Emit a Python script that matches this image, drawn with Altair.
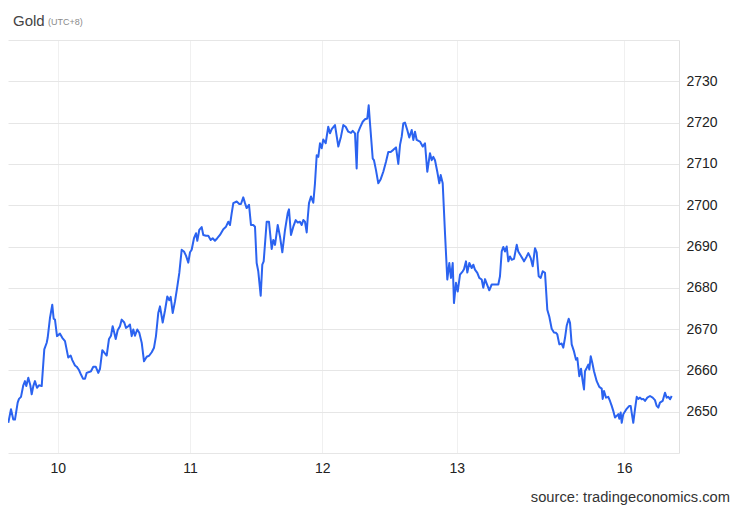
import altair as alt
import pandas as pd

# trading-hour index (hours of trading since Dec 10 00:00 UTC+8, weekend gap removed)
hours = [-8.59, -8.12, -7.72, -7.43, -6.96, -6.73, -6.38, -5.98, -5.69, -5.46, -5.11, -4.76, -4.52, -4.24, -3.95, -3.60, -3.25, -2.78,
         -2.33, -1.91, -1.74, -1.34, -0.94, -0.70, -0.47, -0.12, 0.40, 0.80, 1.27, 1.84, 2.26, 2.54, 3.01, 3.30, 3.70, 4.05, 4.40,
         4.75, 5.04, 5.44, 5.79, 6.19, 6.61, 7.06, 7.36, 7.76, 8.10, 8.52, 8.92, 9.27, 9.56, 9.84, 10.09, 10.43, 10.83, 11.13, 11.58,
         11.88, 12.28, 12.57, 12.87, 13.15, 13.44, 13.84, 14.19, 14.61, 15.01, 15.48, 15.93, 16.35, 16.75, 17.09, 17.49, 17.79, 18.26,
         18.66, 19.06, 19.41, 19.65, 20.00, 20.40, 20.80, 21.15, 21.56, 21.96, 22.31, 22.71, 23.01, 23.30, 23.70, 24.05, 24.28, 24.62,
         25.04, 25.32, 25.79, 26.19, 26.61, 26.95, 27.35, 27.75, 28.22, 28.80, 29.27, 29.67, 29.96, 30.26, 30.54, 31.13, 31.58,
         31.87, 32.27, 32.57, 32.86, 33.27, 33.61, 34.01, 34.31, 34.60, 34.88, 35.30, 35.58, 35.82, 36.34, 36.74, 37.21, 37.49, 37.79,
         38.26, 38.66, 39.06, 39.53, 40.00, 40.22, 40.57, 40.97, 41.39, 41.74, 42.13, 42.43, 42.71, 43.00, 43.30, 43.48, 43.70, 44.05,
         44.45, 44.74, 45.04, 45.32, 45.61, 45.91, 46.18, 46.60, 47.05, 47.35, 47.65, 48.22, 48.80, 49.26, 49.66, 50.08, 50.53, 51.00,
         51.30, 51.70, 51.99, 52.17, 52.57, 53.04, 53.44, 53.84, 54.08, 54.31, 54.78, 55.00, 55.35, 55.75, 56.17, 56.62, 57.09, 57.49,
         57.91, 58.36, 58.83, 59.23, 59.53, 59.82, 60.10, 60.39, 60.79, 61.14, 61.56, 61.84, 62.13, 62.43, 63.00, 63.47, 63.87, 64.27,
         64.74, 65.04, 65.32, 65.61, 66.01, 66.36, 66.60, 66.95, 67.35, 67.75, 68.10, 68.39, 68.69, 68.91, 69.26, 69.56, 69.96, 70.43,
         70.65, 71.00, 71.23, 71.58, 71.99, 72.27, 72.56, 72.97, 73.31, 73.73, 74.01, 74.31, 74.60, 75.05, 75.47, 76.05, 76.62, 76.91,
         77.21, 77.49, 77.78, 78.08, 78.36, 78.65, 78.95, 79.35, 79.82, 80.09, 80.51, 80.86, 81.09, 81.56, 81.84, 82.25, 82.60, 83.00,
         83.29, 83.64, 83.99, 84.34, 84.74, 85.14, 85.49, 85.90, 86.30, 86.65, 86.88, 87.23, 87.64, 87.92, 88.22, 88.51, 88.86, 89.09,
         89.38, 89.78, 90.13, 90.36, 90.70, 91.00, 91.29, 91.52, 91.69, 91.99, 92.27, 92.44, 92.69, 92.97, 93.26, 93.73, 94.18, 94.60,
         94.77, 95.00, 95.35, 95.74, 96.04, 96.34, 96.61, 96.91, 97.21, 97.49, 97.66, 97.90, 98.08, 98.35, 98.94, 99.40, 99.64, 99.81,
         100.09, 100.39, 100.69, 100.96, 101.26, 101.55, 101.83, 102.13, 102.53, 103.00, 103.46, 103.86, 104.16, 104.44, 104.73,
         105.20, 105.60, 105.90, 106.19, 106.48, 106.77]

prices = [2647.3, 2650.6, 2648.1, 2648.1, 2652.2, 2653.1, 2653.6, 2656.4, 2657.4, 2656.2, 2658.2, 2656.4, 2654.2, 2656.2, 2657.4, 2655.8, 2656.4, 2656.2,
          2665.1, 2666.7, 2667.9, 2672.7, 2675.9, 2672.5, 2672.3, 2668.3, 2668.9, 2667.9, 2667.1, 2663.1, 2663.6, 2662.5, 2661.2, 2660.9, 2660.1, 2659.0, 2658.0,
          2658.0, 2659.4, 2659.6, 2659.8, 2660.9, 2660.9, 2659.4, 2660.4, 2664.9, 2664.3, 2663.6, 2667.6, 2668.4, 2670.7, 2669.1, 2667.6, 2669.7, 2670.7, 2672.3, 2671.6,
          2670.3, 2670.7, 2671.1, 2668.3, 2669.9, 2668.4, 2669.9, 2669.1, 2666.7, 2662.2, 2663.3, 2663.6, 2664.4, 2665.5, 2668.3, 2673.9, 2675.5, 2671.6,
          2674.5, 2677.9, 2677.0, 2677.8, 2673.9, 2676.7, 2680.3, 2683.6, 2689.2, 2688.8, 2687.8, 2686.1, 2688.6, 2689.2, 2692.0, 2693.2, 2691.4, 2694.0,
          2694.7, 2692.8, 2692.6, 2692.6, 2691.6, 2692.0, 2691.4, 2692.0, 2692.8, 2694.2, 2694.8, 2696.0, 2695.2, 2698.1, 2700.5, 2700.9, 2700.3,
          2700.3, 2701.9, 2700.5, 2699.3, 2700.1, 2695.2, 2695.2, 2694.8, 2686.0, 2684.0, 2678.1, 2685.6, 2686.4, 2696.0, 2696.0, 2689.4, 2691.6, 2690.4,
          2695.2, 2692.4, 2688.6, 2694.0, 2698.1, 2699.0, 2692.8, 2694.8, 2696.4, 2695.8, 2696.0, 2695.2, 2696.4, 2696.0, 2693.4, 2696.9, 2700.5, 2702.1,
          2700.6, 2705.3, 2712.1, 2711.7, 2715.0, 2713.8, 2715.9, 2715.0, 2719.0, 2717.4, 2718.4, 2719.4, 2714.2, 2716.6, 2719.4, 2719.0, 2717.8, 2717.5,
          2718.0, 2717.4, 2708.9, 2717.4, 2718.8, 2720.2, 2720.8, 2721.0, 2724.2, 2719.8, 2711.3, 2710.9, 2708.5, 2705.3, 2706.3, 2708.1, 2710.5, 2712.9,
          2712.9, 2713.4, 2714.0, 2710.0, 2714.6, 2716.6, 2719.8, 2720.0, 2718.2, 2716.4, 2718.2, 2715.8, 2717.8, 2715.8, 2715.4, 2714.2, 2715.0, 2708.1,
          2712.6, 2710.9, 2711.7, 2710.9, 2708.1, 2705.3, 2707.3, 2705.3, 2693.2, 2682.0, 2686.0, 2682.4, 2686.0, 2676.3, 2681.2, 2679.1, 2683.2, 2684.0,
          2684.5, 2686.4, 2683.7, 2686.0, 2684.8, 2685.6, 2684.4, 2683.6, 2682.4, 2682.0, 2680.0, 2682.1, 2681.0, 2679.4, 2680.8, 2680.8, 2680.8, 2682.8,
          2688.8, 2689.9, 2688.8, 2690.0, 2686.4, 2687.6, 2686.8, 2687.0, 2690.4, 2688.8, 2687.8, 2687.0, 2686.4, 2687.6, 2688.4, 2687.2, 2685.2, 2689.6,
          2688.6, 2682.8, 2682.4, 2684.0, 2683.6, 2674.7, 2673.0, 2670.1, 2669.2, 2669.1, 2668.7, 2666.3, 2666.5, 2665.5, 2667.9, 2670.8, 2672.5, 2671.5,
          2666.3, 2664.6, 2662.6, 2663.0, 2658.6, 2660.4, 2657.4, 2655.4, 2659.8, 2660.6, 2661.4, 2660.2, 2663.4, 2661.8, 2659.8, 2657.4, 2656.0, 2655.6,
          2653.1, 2655.0, 2653.4, 2653.6, 2652.6, 2651.4, 2650.2, 2648.6, 2649.0, 2649.4, 2648.3, 2649.8, 2647.3, 2649.4, 2650.7, 2651.4, 2651.4, 2649.8,
          2647.3, 2650.6, 2653.6, 2653.1, 2653.4, 2653.0, 2653.1, 2652.6, 2653.4, 2653.8, 2653.4, 2652.8, 2651.4, 2651.0, 2652.2,
          2652.6, 2654.6, 2653.4, 2653.6, 2653.0, 2653.8]

day_positions = [0, 23, 46, 69.4, 98.5]
day_labels = ["10", "11", "12", "13", "16"]
y_grid = [2640, 2650, 2660, 2670, 2680, 2690, 2700, 2710, 2720, 2730, 2740]

df = pd.DataFrame({"h": hours, "p": prices})

label_expr = "'" + day_labels[-1] + "'"
for pos, lab in reversed(list(zip(day_positions[:-1], day_labels[:-1]))):
    label_expr = f"datum.value < {pos + 5} ? '{lab}' : " + label_expr

FONT = "Liberation Sans"

line = alt.Chart(df).mark_line(color="#2b63f0", strokeWidth=2, strokeJoin="round").encode(
    x=alt.X("h:Q",
            scale=alt.Scale(domain=[-8.64, 108.04], nice=False, zero=False),
            axis=alt.Axis(values=day_positions, labelExpr=label_expr, title=None,
                          grid=True, gridColor="#f0f0f0", domain=False, ticks=False,
                          labelFontSize=14, labelFont=FONT, labelColor="#222222",
                          labelPadding=8, labelFlush=False)),
    y=alt.Y("p:Q",
            scale=alt.Scale(domain=[2640, 2740], nice=False, zero=False),
            axis=alt.Axis(orient="right", values=y_grid, format="d",
                          labelExpr="datum.value == 2640 || datum.value == 2740 ? '' : datum.label",
                          title=None, grid=True, gridColor="#e6e6e6", domain=True,
                          domainColor="#e0e0e0", ticks=False, labelFontSize=14, labelFont=FONT,
                          labelColor="#222222", labelPadding=7, labelAlign="left"))
)

one = pd.DataFrame({"a": [0]})
title = alt.Chart(one).mark_text(text="Gold", font=FONT, fontSize=15, color="#444444",
                                 align="left", baseline="alphabetic").encode(
    x=alt.value(5), y=alt.value(-14.5))
sub = alt.Chart(one).mark_text(text="(UTC+8)", font=FONT, fontSize=9, color="#8a8a8a",
                               align="left", baseline="alphabetic").encode(
    x=alt.value(40), y=alt.value(-15.5))
source = alt.Chart(one).mark_text(text="source: tradingeconomics.com", font=FONT, fontSize=14.7,
                                  color="#333333", align="right", baseline="alphabetic").encode(
    x=alt.value(722), y=alt.value(462))

chart = alt.layer(line, title, sub, source).properties(
    width=671, height=413,
    autosize=alt.AutoSizeParams(type="none"),
    padding={"left": 0, "top": 32, "right": 52, "bottom": 52},
).configure_view(stroke=None)

chart.save("out.html", embed_options={"renderer": "svg", "actions": False})
